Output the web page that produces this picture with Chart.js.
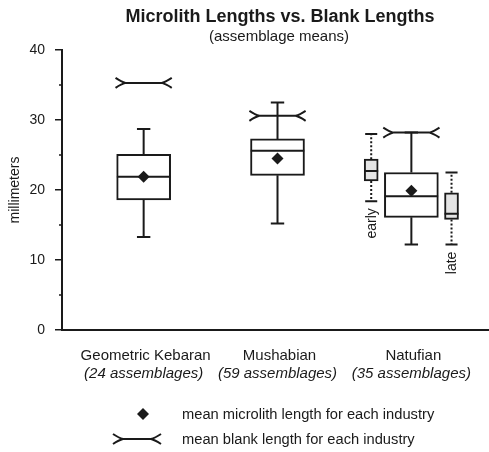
<!DOCTYPE html>
<html>
<head>
<meta charset="utf-8">
<title>Microlith Lengths vs. Blank Lengths</title>
<script src="https://cdn.jsdelivr.net/npm/chart.js@4/dist/chart.umd.min.js"></script>
<style>
  html, body { margin: 0; padding: 0; background: #fff; }
  #wrap { position: relative; width: 489px; height: 452px; }
</style>
</head>
<body>
<div id="wrap"><canvas id="chart" width="489" height="452"></canvas></div>
<script>
/* ---- data (millimeters) ---- */
const industries      = ["Geometric Kebaran", "Mushabian", "Natufian"];
const assemblageCount = [24, 59, 35];
const whiskerLow      = [13.3, 15.2, 12.2];
const quartile1       = [18.6, 22.1, 16.1];
const medians         = [21.9, 25.6, 19.1];
const quartile3       = [25.1, 27.3, 22.5];
const whiskerHigh     = [28.7, 32.5, 28.2];
const microlithMean   = [21.9, 24.5, 19.9];
const blankMean       = [35.3, 30.6, 28.2];

// Natufian split into early / late phases
const phases       = ["early", "late"];
const phaseLow     = [18.4, 12.2];
const phaseQ1      = [21.3, 15.8];
const phaseMedian  = [22.7, 16.6];
const phaseQ3      = [24.4, 19.6];
const phaseHigh    = [28.0, 22.5];

const yTicks = [0, 10, 20, 30, 40];

const INK = "#1a1a1a";
const FONT = "'Liberation Sans', Arial, Helvetica, sans-serif";
const PHASE_OFFSET = [-0.3, 0.3];   // phase boxes sit either side of Natufian

function blankMarker(ctx, xl, xr, y) {
  ctx.beginPath();
  ctx.moveTo(xl, y - 5);
  ctx.quadraticCurveTo(xl + 6, y - 1, xl + 10, y);
  ctx.moveTo(xl, y + 5);
  ctx.quadraticCurveTo(xl + 6, y + 1, xl + 10, y);
  ctx.moveTo(xl + 10, y);
  ctx.lineTo(xr - 10, y);
  ctx.moveTo(xr, y - 5);
  ctx.quadraticCurveTo(xr - 6, y - 1, xr - 10, y);
  ctx.moveTo(xr, y + 5);
  ctx.quadraticCurveTo(xr - 6, y + 1, xr - 10, y);
  ctx.stroke();
}

function drawBoxExtras(ctx, xs, ys, cx, low, q1, med, q3, high, capHalf, halfW, dashed) {
  const px = xs.getPixelForValue(cx);
  ctx.save();
  ctx.strokeStyle = INK;
  ctx.lineWidth = 2;
  if (dashed) ctx.setLineDash([2, 2]);
  ctx.beginPath();
  ctx.moveTo(px, ys.getPixelForValue(q3));
  ctx.lineTo(px, ys.getPixelForValue(high));
  ctx.moveTo(px, ys.getPixelForValue(q1));
  ctx.lineTo(px, ys.getPixelForValue(low));
  ctx.stroke();
  ctx.setLineDash([]);
  ctx.beginPath();
  [low, high].forEach(v => {
    const py = ys.getPixelForValue(v);
    ctx.moveTo(xs.getPixelForValue(cx - capHalf), py);
    ctx.lineTo(xs.getPixelForValue(cx + capHalf), py);
  });
  const my = ys.getPixelForValue(med);
  ctx.moveTo(xs.getPixelForValue(cx - halfW), my);
  ctx.lineTo(xs.getPixelForValue(cx + halfW), my);
  ctx.stroke();
  ctx.restore();
}

const boxPlotPlugin = {
  id: "boxPlot",
  afterDatasetDraw(chart, args) {
    const ctx = chart.ctx;
    const xs = chart.scales.x, ys = chart.scales.y;
    if (args.index === 1) {
      industries.forEach((_, i) => {
        drawBoxExtras(ctx, xs, ys, i + 1, whiskerLow[i], quartile1[i], medians[i],
          quartile3[i], whiskerHigh[i], 0.05, 0.2, false);
      });
      ctx.save();
      ctx.strokeStyle = INK;
      ctx.lineWidth = 2;
      blankMean.forEach((v, i) => {
        blankMarker(ctx, xs.getPixelForValue(i + 1 - 0.21), xs.getPixelForValue(i + 1 + 0.21),
          ys.getPixelForValue(v));
      });
      ctx.restore();
    }
    if (args.index === 2) {
      phases.forEach((p, i) => {
        const cx = 3 + PHASE_OFFSET[i];
        drawBoxExtras(ctx, xs, ys, cx, phaseLow[i], phaseQ1[i], phaseMedian[i],
          phaseQ3[i], phaseHigh[i], 0.045, 0.052, true);
        ctx.save();
        ctx.fillStyle = INK;
        ctx.font = "14px " + FONT;
        ctx.translate(xs.getPixelForValue(cx) + 1, ys.getPixelForValue(phaseLow[i]) + 7);
        ctx.rotate(-Math.PI / 2);
        ctx.textAlign = "right";
        ctx.textBaseline = "middle";
        ctx.fillText(p, 0, 0);
        ctx.restore();
      });
    }
  },
  afterDraw(chart) {
    const ctx = chart.ctx;
    const xs = chart.scales.x, ys = chart.scales.y;
    ctx.save();
    ctx.fillStyle = INK;
    ctx.strokeStyle = INK;

    // minor ticks at the 5s
    ctx.lineWidth = 1.5;
    ctx.beginPath();
    [5, 15, 25, 35].forEach(v => {
      const py = ys.getPixelForValue(v);
      ctx.moveTo(xs.left - 3, py);
      ctx.lineTo(xs.left, py);
    });
    ctx.stroke();

    // titles
    ctx.textAlign = "center";
    ctx.textBaseline = "middle";
    ctx.font = "bold 18px " + FONT;
    ctx.fillText("Microlith Lengths vs. Blank Lengths", 280, 17);
    ctx.font = "15px " + FONT;
    ctx.fillText("(assemblage means)", 279, 37);

    // category labels
    industries.forEach((name, i) => {
      const px = xs.getPixelForValue(i + 1);
      ctx.font = "15px " + FONT;
      ctx.fillText(name, px + 2, 356);
      ctx.font = "italic 15px " + FONT;
      ctx.fillText("(" + assemblageCount[i] + " assemblages)", px, 374);
    });

    // legend
    ctx.beginPath();
    ctx.moveTo(143, 408); ctx.lineTo(149, 414); ctx.lineTo(143, 420); ctx.lineTo(137, 414);
    ctx.closePath();
    ctx.fill();
    ctx.lineWidth = 2;
    blankMarker(ctx, 113, 161, 439);
    ctx.textAlign = "left";
    ctx.font = "14.7px " + FONT;
    ctx.fillText("mean microlith length for each industry", 182, 415);
    ctx.fillText("mean blank length for each industry", 182, 440);
    ctx.restore();
  }
};

new Chart(document.getElementById("chart"), {
  type: "bar",
  data: {
    datasets: [
      {
        type: "scatter",
        label: "mean microlith length",
        data: microlithMean.map((v, i) => ({ x: i + 1, y: v })),
        pointStyle: "rectRot",
        radius: 6,
        backgroundColor: INK,
        borderWidth: 0
      },
      {
        label: "industry",
        data: industries.map((_, i) => ({ x: i + 1, y: [quartile1[i], quartile3[i]] })),
        backgroundColor: "#ffffff",
        borderColor: INK,
        borderWidth: 2,
        borderSkipped: false,
        barThickness: 54,
        grouped: false
      },
      {
        label: "Natufian phases",
        data: phases.map((_, i) => ({ x: 3 + PHASE_OFFSET[i], y: [phaseQ1[i], phaseQ3[i]] })),
        backgroundColor: "#e4e4e4",
        borderColor: INK,
        borderWidth: 2,
        borderSkipped: false,
        barThickness: 14,
        grouped: false
      }
    ]
  },
  options: {
    responsive: false,
    animation: false,
    layout: { autoPadding: false, padding: { top: 50, bottom: 122, left: 0, right: 0 } },
    plugins: {
      legend: { display: false },
      tooltip: { enabled: false }
    },
    scales: {
      x: {
        type: "linear",
        offset: false,
        min: 0.39,
        max: 3.58,
        ticks: { display: false },
        grid: { display: false, offset: false },
        border: { display: true, color: INK, width: 2 },
        afterFit: s => { s.height = 0; }
      },
      y: {
        type: "linear",
        min: 0,
        max: 40,
        afterBuildTicks: s => { s.ticks = yTicks.map(v => ({ value: v })); },
        ticks: {
          color: INK,
          padding: 10,
          font: { family: FONT, size: 14 }
        },
        grid: { drawOnChartArea: false, tickLength: 7, color: INK, lineWidth: 1.5 },
        border: { display: true, color: INK, width: 2 },
        title: {
          display: true,
          text: "millimeters",
          color: INK,
          font: { family: FONT, size: 14 },
          padding: { top: 7, bottom: 0 }
        },
        afterFit: s => { s.width = 62; }
      }
    }
  },
  plugins: [boxPlotPlugin]
});
</script>
</body>
</html>
